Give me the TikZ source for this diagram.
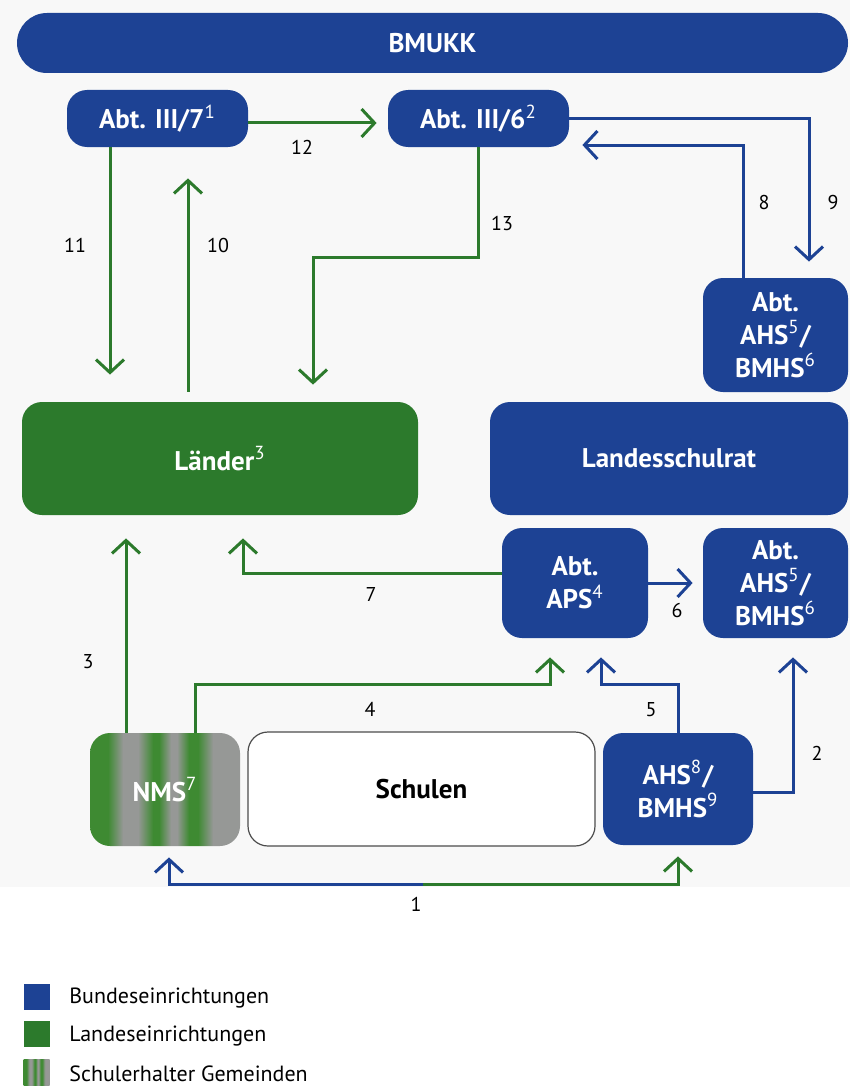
\documentclass[tikz,border=0pt]{standalone}
\usepackage{fontspec}
\setmainfont{PT Sans}
\usetikzlibrary{arrows.meta}
\definecolor{BundBlue}{RGB}{29,66,148}
\definecolor{LandGreen}{RGB}{44,122,44}
\definecolor{StripeGreen}{RGB}{62,138,50}
\definecolor{StripeGray}{RGB}{150,152,150}
\definecolor{PaperGray}{RGB}{248,248,248}
\newcommand{\diagboxfont}{\fontsize{13.5}{16.5}\selectfont\bfseries}
\newcommand{\labelnumfont}{\fontsize{10}{12}\selectfont}
\newcommand{\legendfont}{\fontsize{11}{12}\selectfont}
\pgfdeclarehorizontalshading{nmsstripes}{100bp}{%
  color(0bp)=(StripeGreen); color(25bp)=(StripeGreen); color(31bp)=(StripeGreen);
  color(36bp)=(StripeGray); color(41bp)=(StripeGray); color(46bp)=(StripeGreen);
  color(48bp)=(StripeGreen); color(52bp)=(StripeGray); color(54bp)=(StripeGray);
  color(58bp)=(StripeGreen); color(61bp)=(StripeGreen); color(66bp)=(StripeGray);
  color(75bp)=(StripeGray); color(100bp)=(StripeGray)}

\begin{document}
\begin{tikzpicture}[
  x=0.5pt, y=-0.5pt,
  box/.style={rounded corners=10pt,align=center,inner sep=0pt,font=\diagboxfont},
  bund/.style={box,fill=BundBlue,text=white},
  land/.style={box,fill=LandGreen,text=white},
  barr/.style={draw=BundBlue,line width=1.5pt,-{Straight Barb[length=6.5pt,width=14pt,line width=1.5pt]}},
  garr/.style={barr,draw=LandGreen},
  num/.style={font=\labelnumfont},
  legbox/.style={minimum size=13pt,inner sep=0pt},
  legtxt/.style={font=\legendfont,anchor=west,inner sep=0pt}
]
\useasboundingbox (0,0) rectangle (850,1086);
\fill[PaperGray] (0,0) rectangle (850,887);

% Bund
\node[bund,rounded corners=15pt,minimum width=415.5pt,minimum height=30pt] (bmukk) at (432.5,43) {BMUKK};
\node[bund,minimum width=90.5pt,minimum height=28.5pt] (abt7) at (157.5,118.5) {Abt. III/7\textsuperscript{\mdseries 1}};
\node[bund,minimum width=90.5pt,minimum height=28.5pt] (abt6) at (478.5,118.5) {Abt. III/6\textsuperscript{\mdseries 2}};
\node[bund,minimum width=72.5pt,minimum height=57pt] (ahsabt) at (775.5,335) {Abt.\\AHS\textsuperscript{\mdseries 5}/\\BMHS\textsuperscript{\mdseries 6}};

% Land / Landesschulrat
\node[land,minimum width=198pt,minimum height=56.5pt] (laender) at (220,458.5) {Länder\textsuperscript{\mdseries 3}};
\node[bund,minimum width=179pt,minimum height=56.5pt] (lsr) at (669,458.5) {Landesschulrat};
\node[bund,minimum width=73pt,minimum height=55pt] (aps) at (575,583) {Abt.\\APS\textsuperscript{\mdseries 4}};
\node[bund,minimum width=72.5pt,minimum height=55pt] (ahslsr) at (775.5,583) {Abt.\\AHS\textsuperscript{\mdseries 5}/\\BMHS\textsuperscript{\mdseries 6}};

% Schulen
\node[box,shade,shading=nmsstripes,text=white,minimum width=75pt,minimum height=56.5pt] (nms) at (165,789.5) {NMS\textsuperscript{\mdseries 7}};
\node[box,draw=black!70,line width=0.6pt,fill=white,minimum width=173.5pt,minimum height=57pt] (schulen) at (421.5,789) {Schulen};
\node[bund,minimum width=75pt,minimum height=56pt] (ahs) at (678,789) {AHS\textsuperscript{\mdseries 8}/\\BMHS\textsuperscript{\mdseries 9}};

% connectors
\draw[garr,shorten >=5.5pt] ([yshift=-2.25pt]abt7.east) -- ([yshift=-2.25pt]abt6.west);
\draw[barr,shorten >=8pt] (abt6.east) -| ([xshift=16.75pt]ahsabt.north);
\draw[barr,shorten >=6.5pt] ([xshift=-16.25pt]ahsabt.north) |- ([yshift=-13.25pt]abt6.east);
\draw[garr,shorten >=8.5pt] (abt6.south) -- ++(0,110) -| ([xshift=46.5pt]laender.north);
\draw[garr,shorten >=13.5pt] ([xshift=-23.75pt]abt7.south) -- ([xshift=-55pt]laender.north);
\draw[garr,shorten <=5pt,shorten >=15.5pt] ([xshift=-16pt]laender.north) -- ([xshift=15.25pt]abt7.south);
\draw[garr,shorten >=11.5pt] ([yshift=5pt]aps.west) -| ([xshift=11.5pt]laender.south);
\draw[garr,shorten >=11.5pt] ([xshift=-19.5pt]nms.north) -- ([xshift=-47pt]laender.south);
\draw[garr,shorten >=9.5pt] ([xshift=15pt]nms.north) -- ++(0,-48) -| ([xshift=-12.5pt]aps.south);
\draw[barr,shorten >=9.5pt] (ahs.north) -- ++(0,-48) -| ([xshift=13pt]aps.south);
\draw[barr,shorten >=9.5pt] ([yshift=-1.5pt]ahs.east) -| ([xshift=8.75pt]ahslsr.south);
\draw[barr,shorten >=5pt] (aps.east) -- (ahslsr.west);
\coordinate (split1) at (423,884);
\draw[barr,shorten >=5.5pt] (split1) -| ([xshift=2pt]nms.south);
\draw[garr,shorten >=5.5pt] (split1) -| (ahs.south);

% numbers
\node[num] (n1) at (416,904) {1};
\node[num] (n2) at (817,753) {2};
\node[num] (n3) at (88,662) {3};
\node[num] (n4) at (370,709) {4};
\node[num] (n5) at (651,710) {5};
\node[num] (n6) at (677,610) {6};
\node[num] (n7) at (371,594) {7};
\node[num] (n8) at (764,202) {8};
\node[num] (n9) at (833,202) {9};
\node[num] (n10) at (218,245) {10};
\node[num] (n11) at (75,245) {11};
\node[num] (n12) at (302,147) {12};
\node[num] (n13) at (502,223) {13};

% legend
\node[legbox,fill=BundBlue] (legbund) at (36.5,996.5) {};
\node[legbox,fill=LandGreen] (legland) at (36.5,1034) {};
\node[legbox,shade,shading=nmsstripes] (leggem) at (36.5,1072) {};
\node[legtxt] (txtbund) at (69,998) {Bundeseinrichtungen};
\node[legtxt] (txtland) at (69,1036) {Landeseinrichtungen};
\node[legtxt] (txtgem) at (69,1074) {Schulerhalter Gemeinden};
\end{tikzpicture}
\end{document}
